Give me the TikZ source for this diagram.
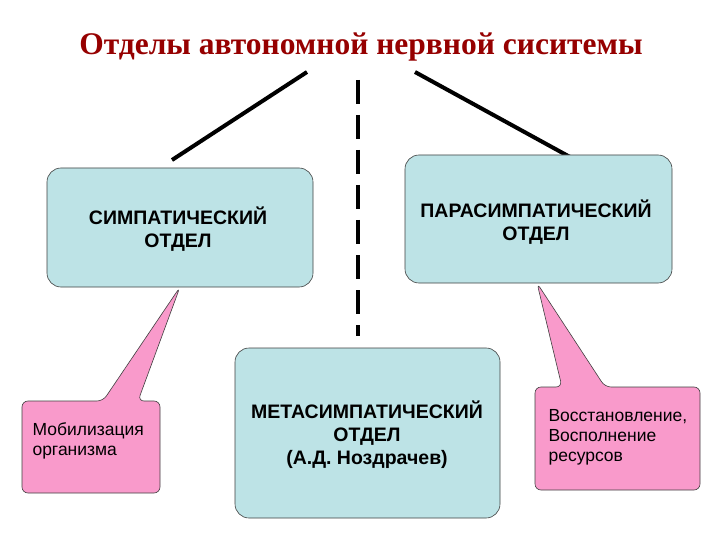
\documentclass[tikz,border=0pt]{standalone}
\usepackage{fontspec}
\setmainfont{Liberation Serif}
\newfontfamily\arial{Liberation Sans}
\begin{document}
\begin{tikzpicture}[x=1pt,y=-1pt,
  cbox/.style={draw=black!75,fill=blueboxcol,rounded corners=14pt,line width=0.6pt},
  pbox/.style={draw=black!75,fill=pinkcol,line width=0.6pt,rounded corners=6pt},
  lbl/.style={font=\arial\bfseries\fontsize{19.5}{23}\selectfont,align=center,text=black},
  plbl/.style={font=\arial\fontsize{17.5}{20}\selectfont,align=left,text=black,anchor=west},
  bar/.style={line width=4pt,black}]
\definecolor{blueboxcol}{HTML}{BDE3E6}
\definecolor{pinkcol}{HTML}{F99ACB}
\useasboundingbox (0,0) rectangle (720,540);
\fill[white] (0,0) rectangle (720,540);
\node[font=\bfseries\fontsize{31.5}{36}\selectfont,text={rgb,255:red,150;green,0;blue,0}] (title) at (361,47) {Отделы автономной нервной сиситемы};
\coordinate (l1) at (307,72); \coordinate (l2) at (172,160);
\coordinate (r1) at (415,72); \coordinate (r2) at (570,157);
\draw[bar] (l1) -- (l2);
\draw[bar] (r1) -- (r2);
\coordinate (d1) at (358,80); \coordinate (d2) at (358,336);
\draw[bar,dash pattern=on 24pt off 11pt] (d1) -- (d2);
% callouts
\draw[pbox] (180,287) -- (138,401) -- (160,401) -- (160,493) -- (22,493) -- (22,401) -- (103,401) -- cycle;
\draw[pbox] (537,283) -- (605,387) -- (700,387) -- (700,490) -- (535,490) -- (535,387) -- (562,387) -- cycle;
\node[plbl] (pl) at (29,441) {Мобилизация\\организма};
\node[plbl] (pr) at (545,437) {Восстановление,\\Восполнение\\ресурсов};
% boxes
\draw[cbox] (47,168) rectangle (313,287);
\node[lbl] (sym) at (178,229) {СИМПАТИЧЕСКИЙ\\ОТДЕЛ};
\draw[cbox] (405,155) rectangle (672,283);
\node[lbl] (par) at (536,222) {ПАРАСИМПАТИЧЕСКИЙ\\ОТДЕЛ};
\draw[cbox] (235,348) rectangle (500,518);
\node[lbl] (met) at (367,435) {МЕТАСИМПАТИЧЕСКИЙ\\ОТДЕЛ\\(А.Д. Ноздрачев)};
\end{tikzpicture}
\end{document}
